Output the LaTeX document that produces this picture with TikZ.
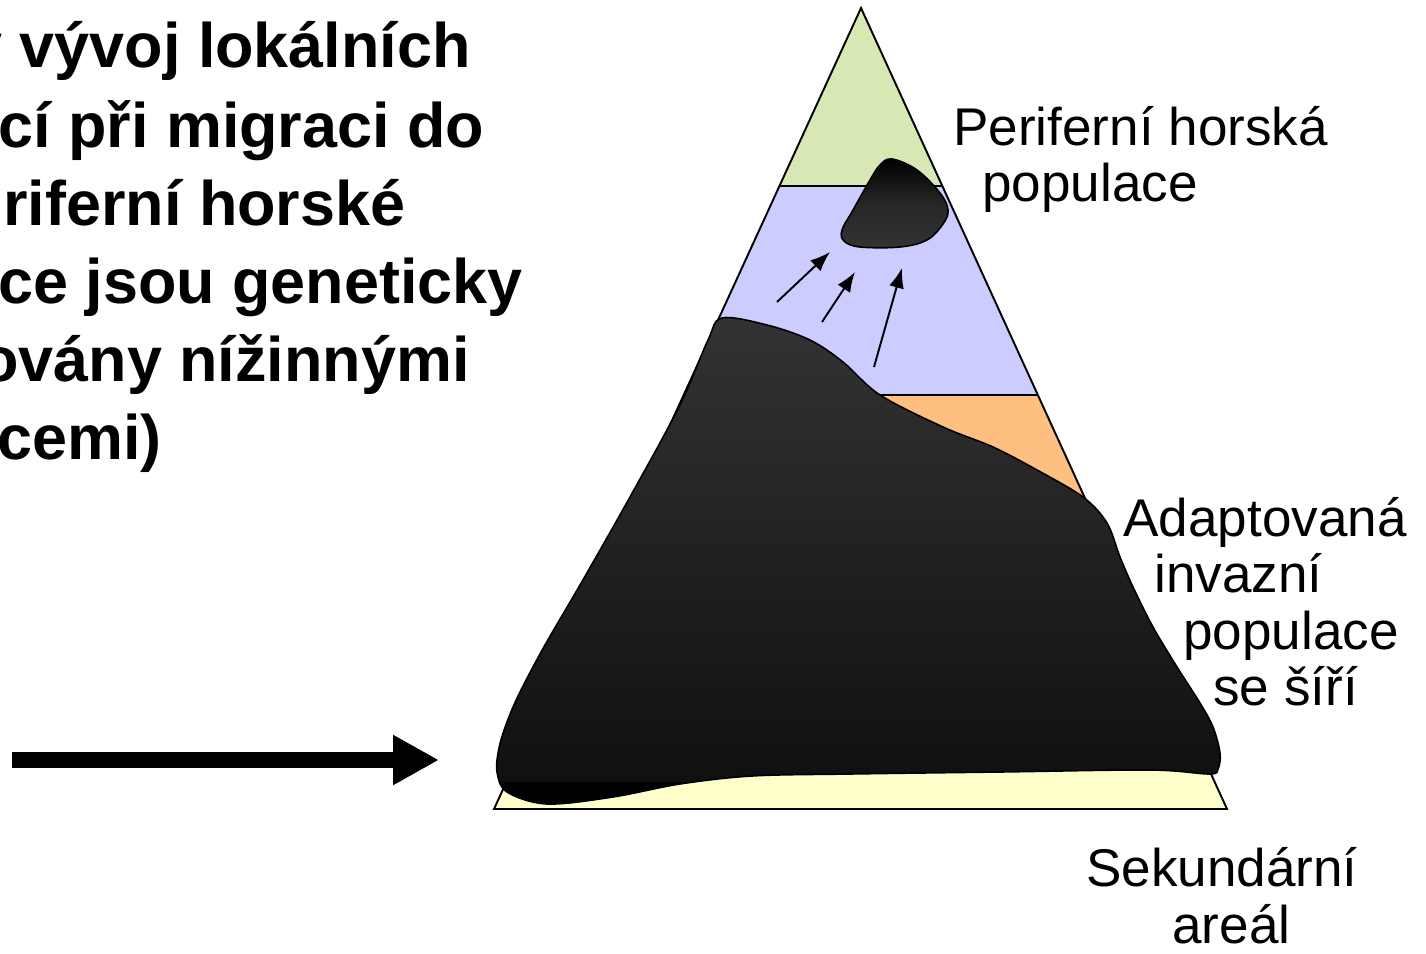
\documentclass[tikz,border=0pt]{standalone}
\usepackage{fontspec}
\setmainfont{Liberation Sans}
\usetikzlibrary{arrows.meta,calc}
\definecolor{bandgreen}{HTML}{D7E8B4}
\definecolor{bandblue}{HTML}{CCCCFF}
\definecolor{bandorange}{HTML}{FFBF80}
\definecolor{bandyellow}{HTML}{FFFFCC}
\definecolor{blobtop}{HTML}{333333}
\definecolor{blobbottom}{HTML}{0E0E0E}

% outline of the large lowland population
\def\lowlandblob{plot[smooth cycle, tension=0.55] coordinates {
  (722,318) (767,325) (810,340) (843,362) (880,395) (943,427) (993,447)
  (1037,470) (1083,497) (1107,523) (1120,557) (1133,587) (1153,627)
  (1177,667) (1200,703) (1213,727) (1220,753) (1218,769) (1209,774)
  (1150,770) (1000,772) (850,774) (752,776) (680,784) (613,797)
  (547,804) (507,792) (497,772) (499,748) (507,722) (520,692)
  (545,645) (580,585) (630,497) (680,405) (708,340)}}
% outline of the small mountain population
\def\mountainblob{plot[smooth cycle, tension=0.6] coordinates {
  (892,159) (917,170) (940,193) (948,210) (943,224) (927,240) (900,247)
  (860,247) (844,241) (842,230) (853,210) (870,180) (880,165)}}

\begin{document}
\begin{tikzpicture}[x=0.02cm,y=-0.02cm,
  titletext/.style={anchor=base west, inner sep=0pt,
    font=\fontsize{35.8pt}{40pt}\selectfont\bfseries},
  labeltext/.style={anchor=base west, inner sep=0pt,
    font=\fontsize{30.2pt}{34pt}\selectfont},
  bandline/.style={draw=black, line width=1.1pt},
  migr/.style={line width=1.1pt, -{Latex[length=0.4cm,width=0.3cm]}},
  bigarrow/.style={line width=9.1pt, -{Triangle[length=0.92cm,width=0.94cm]}},
  blobline/.style={draw=black, line width=0.9pt},
]
\useasboundingbox (0,0) rectangle (1426,953);

% heading, running off the left edge
\begin{scope}
\clip (0,0) rectangle (1426,953);
\node[titletext] (t1) at (-33,68) {y vývoj lokálních};
\node[titletext] (t2) at (-2,147) {cí při migraci do};
\node[titletext] (t3) at (3,225) {riferní horské};
\node[titletext] (t4) at (-2,303) {ce jsou geneticky};
\node[titletext] (t5) at (-20,381) {ovány nížinnými};
\node[titletext] (t6) at (-3,459) {cemi)};
\end{scope}

% triangle of altitude zones
\coordinate (apex) at (861,8);
\coordinate (bl) at (494,809);
\coordinate (br) at (1227,809);
\coordinate (gl) at ($(apex)!0.2222!(bl)$);
\coordinate (gr) at ($(apex)!0.2222!(br)$);
\coordinate (ol) at ($(apex)!0.4831!(bl)$);
\coordinate (or) at ($(apex)!0.4831!(br)$);
\coordinate (yl) at ($(apex)!0.8015!(bl)$);
\coordinate (yr) at ($(apex)!0.8015!(br)$);

\fill[bandgreen] (apex) -- (gl) -- (gr) -- cycle;
\fill[bandblue] (gl) -- (ol) -- (or) -- (gr) -- cycle;
\fill[bandorange] (ol) -- (yl) -- (yr) -- (or) -- cycle;
\fill[bandyellow] (yl) -- (bl) -- (br) -- (yr) -- cycle;
\draw[bandline] (gl) -- (gr);
\draw[bandline] (ol) -- (or);
\draw[bandline] (yl) -- (yr);
\draw[bandline] (apex) -- (bl) -- (br) -- cycle;

% lowland population
\shade[top color=blobtop, bottom color=blobbottom] \lowlandblob;
\begin{scope}
\clip \lowlandblob;
\fill[black] (480,782) rectangle (1240,815);
\end{scope}
\draw[blobline] \lowlandblob;

% mountain population
\shade[top color=black, bottom color=blobtop, middle color=black!85!white] \mountainblob;
\draw[blobline] \mountainblob;

% migration arrows
\coordinate (m1s) at (777,302);
\coordinate (m1e) at (830,252);
\coordinate (m2s) at (822,322);
\coordinate (m2e) at (855,272);
\coordinate (m3s) at (874,367);
\coordinate (m3e) at (902,268);
\draw[migr] (m1s) -- (m1e);
\draw[migr] (m2s) -- (m2e);
\draw[migr] (m3s) -- (m3e);

% spreading arrow
\coordinate (arrS) at (12,760);
\coordinate (arrE) at (439,760);
\draw[bigarrow] (arrS) -- (arrE);

% labels
\node[labeltext] (l1) at (953,145) {Periferní horská};
\node[labeltext] (l2) at (982,201) {populace};
\node[labeltext] (l3) at (1123,536) {Adaptovaná};
\node[labeltext] (l4) at (1154,592) {invazní};
\node[labeltext] (l5) at (1183,649) {populace};
\node[labeltext] (l6) at (1213,705) {se šíří};
\node[labeltext] (l7) at (1086,886) {Sekundární};
\node[labeltext] (l8) at (1172,943) {areál};
\end{tikzpicture}
\end{document}
